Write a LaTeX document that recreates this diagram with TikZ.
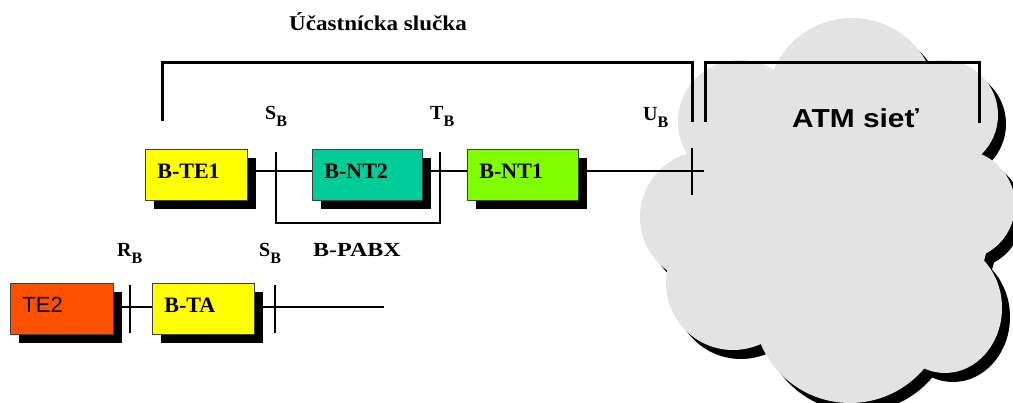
\documentclass[tikz,border=0pt]{standalone}
\usepackage{fontspec}
\setmainfont{Liberation Serif}
\newfontfamily\arialfont{Liberation Sans}
\usetikzlibrary{shadows,backgrounds}
\definecolor{cloudgray}{RGB}{227,227,227}
\definecolor{te1yellow}{RGB}{255,255,0}
\definecolor{nt2teal}{RGB}{0,204,153}
\definecolor{nt1green}{RGB}{128,255,0}
\definecolor{te2orange}{RGB}{255,80,0}
\newcommand\interfacelbl[2]{{\fontsize{20}{24}\selectfont\bfseries #1}\raisebox{-7pt}{\fontsize{16}{19}\selectfont\bfseries #2}}
\begin{document}
\begin{tikzpicture}[x=1pt,y=-1pt,
  conn/.style={line width=2.2pt},
  brk/.style={line width=3pt},
  boxnode/.style={draw=black!75, line width=0.8pt, inner xsep=12pt, inner ysep=0pt,
    minimum height=51pt, text height=15pt, text depth=7pt, align=left, anchor=north west,
    drop shadow={shadow xshift=9pt, shadow yshift=-9pt, fill=black, opacity=1},
    font=\bfseries\fontsize{22}{26}\selectfont},
  lbl/.style={anchor=base west, inner sep=0pt, font=\bfseries}]
\useasboundingbox (0,0) rectangle (1013,403);

% boxes
\node[boxnode, fill=te1yellow, text width=78pt] (te1) at (145,149) {B-TE1};
\node[boxnode, fill=nt2teal, text width=86pt] (nt2) at (312,149) {B-NT2};
\node[boxnode, fill=nt1green, text width=87pt] (nt1) at (467,149) {B-NT1};
\node[boxnode, fill=te2orange, text width=79pt, font=\arialfont\fontsize{22}{26}\selectfont] (te2) at (10,283) {TE2};
\node[boxnode, fill=te1yellow, text width=78pt] (ta) at (152,283) {B-TA};

\coordinate (ucross) at (692,171);
\coordinate (uend) at (704,171);
\coordinate (lowend) at (384,307);

\begin{pgfonlayer}{background}
  % cloud shadow
  \begin{scope}[shift={(8,9)}]
    \foreach \cx/\cy/\rr in {852/103/85, 740/122/62, 706/217/66, 733/283/67, 850/306/97, 960/205/55, 943/115/55, 850/220/140}
      \fill[black] (\cx,\cy) circle [radius=\rr];
    \fill[black] (945,308) ellipse [x radius=57, y radius=65];
  \end{scope}
  % cloud
  \foreach \cx/\cy/\rr in {852/103/85, 740/122/62, 706/217/66, 733/283/67, 850/306/97, 960/205/55, 943/115/55, 850/220/140}
    \fill[cloudgray] (\cx,\cy) circle [radius=\rr];
  \fill[cloudgray] (945,308) ellipse [x radius=57, y radius=65];
  % connectors
  \draw[conn] (te1.east |- ucross) -- (nt2.west |- ucross);
  \draw[conn] (nt2.east |- ucross) -- (nt1.west |- ucross);
  \draw[conn] (nt1.east |- ucross) -- (uend);
  \draw[conn] (te2.east |- lowend) -- (ta.west |- lowend);
  \draw[conn] (ta.east |- lowend) -- (lowend);
\end{pgfonlayer}

% interface ticks
\draw[conn] (692,148) -- (692,195);
\draw[conn] (276,152) -- (276,223) -- (440,223) -- (440,152);
\draw[conn] (130,285) -- (130,333);
\draw[conn] (275,285) -- (275,333);

% brackets
\draw[brk] (162,121) -- (162,63) -- (692,63) -- (692,122);
\draw[brk] (705,122) -- (705,63) -- (979,63) -- (979,123);

% labels
\node[anchor=base, inner sep=0pt, font=\bfseries\fontsize{21}{25}\selectfont] (title) at (378,31) {\scalebox{1.1}[1]{Účastnícka slučka}};
\node[lbl] (sb1) at (265,120) {\interfacelbl{S}{B}};
\node[lbl] (tb) at (430,120) {\interfacelbl{T}{B}};
\node[lbl] (ub) at (643,121) {\interfacelbl{U}{B}};
\node[lbl] (rb) at (117,257) {\interfacelbl{R}{B}};
\node[lbl] (sb2) at (259,257) {\interfacelbl{S}{B}};
\node[lbl, font=\bfseries\fontsize{20}{24}\selectfont] (pabx) at (313,257) {\scalebox{1.2}[1]{B-PABX}};
\node[anchor=base west, inner sep=0pt, font=\arialfont\bfseries\fontsize{26}{30}\selectfont] (atm) at (792,128) {\scalebox{1.15}[1]{ATM sieť}};
\end{tikzpicture}
\end{document}
